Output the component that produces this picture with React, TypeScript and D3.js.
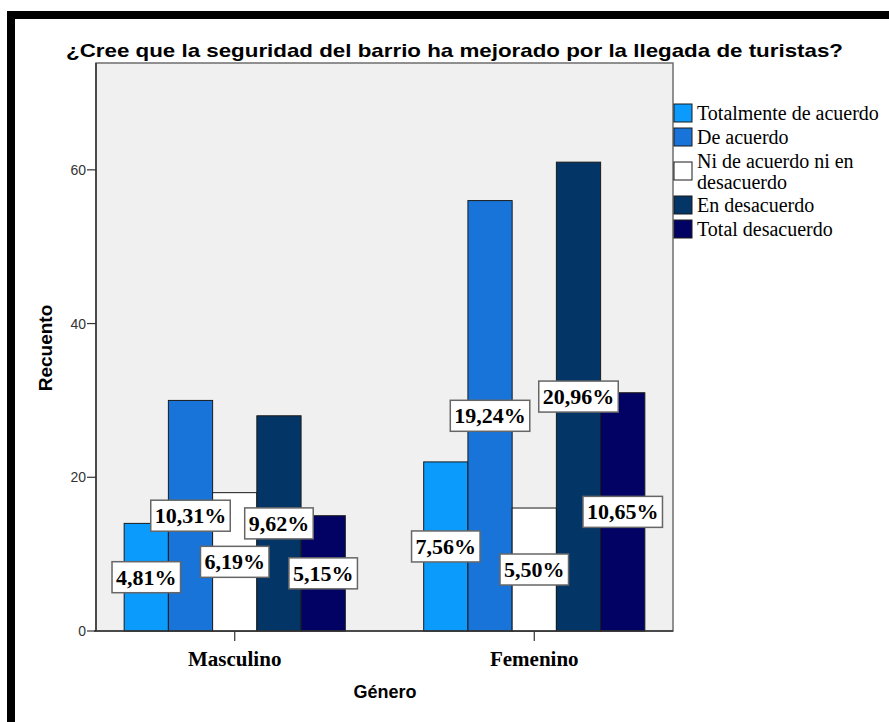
import React, { useEffect, useRef } from "react";
import * as d3 from "d3";

const genders = ["Masculino", "Femenino"];
const responses = [
  "Totalmente de acuerdo",
  "De acuerdo",
  "Ni de acuerdo ni en desacuerdo",
  "En desacuerdo",
  "Total desacuerdo",
];
const legendLines = [
  ["Totalmente de acuerdo"],
  ["De acuerdo"],
  ["Ni de acuerdo ni en", "desacuerdo"],
  ["En desacuerdo"],
  ["Total desacuerdo"],
];
const masculinoCounts = [14, 30, 18, 28, 15];
const femeninoCounts = [22, 56, 16, 61, 31];
const masculinoPct = ["4,81%", "10,31%", "6,19%", "9,62%", "5,15%"];
const femeninoPct = ["7,56%", "19,24%", "5,50%", "20,96%", "10,65%"];
const colors = ["#0b9bfc", "#1874d9", "#ffffff", "#033566", "#020264"];
const yTicks = [0, 20, 40, 60];
const yMax = 73.9;

const title = "¿Cree que la seguridad del barrio ha mejorado por la llegada de turistas?";

export default function App() {
  const ref = useRef<SVGSVGElement>(null);

  useEffect(() => {
    const svg = d3.select(ref.current);
    svg.selectAll("*").remove();

    const left = 96, right = 673, top = 63, bottom = 631;
    const sans = "'Liberation Sans', Arial, sans-serif";
    const serif = "'Liberation Serif', 'Times New Roman', serif";

    svg.append("rect").attr("x", 0).attr("y", 0).attr("width", 889).attr("height", 722).attr("fill", "#fff");
    svg.append("rect").attr("x", 11).attr("y", 15).attr("width", 1000).attr("height", 1000)
      .attr("fill", "none").attr("stroke", "#000").attr("stroke-width", 8);

    svg.append("text").attr("x", 66).attr("y", 56.5)
      .attr("font-family", sans).attr("font-weight", "bold").attr("font-size", 19)
      .attr("textLength", 777).attr("lengthAdjust", "spacingAndGlyphs")
      .attr("fill", "#000").text(title);

    const x0 = d3.scaleBand<string>().domain(genders).range([left, right])
      .paddingInner(0.2617).paddingOuter(0.094);
    const x1 = d3.scaleBand<string>().domain(responses).range([0, x0.bandwidth()]);
    const y = d3.scaleLinear().domain([0, yMax]).range([bottom, top]);

    svg.append("rect").attr("x", left).attr("y", top).attr("width", right - left).attr("height", bottom - top)
      .attr("fill", "#f0f0f0").attr("stroke", "#6e6e6e").attr("stroke-width", 1.5);

    const data = genders.map((g, gi) => ({
      g,
      counts: gi === 0 ? masculinoCounts : femeninoCounts,
      pcts: gi === 0 ? masculinoPct : femeninoPct,
    }));

    // bars
    data.forEach((d) => {
      d.counts.forEach((v, i) => {
        svg.append("rect")
          .attr("x", (x0(d.g) as number) + (x1(responses[i]) as number))
          .attr("y", y(v))
          .attr("width", x1.bandwidth())
          .attr("height", y(0) - y(v))
          .attr("fill", colors[i])
          .attr("stroke", "#1a1a1a").attr("stroke-width", 1);
      });
    });

    // axes lines
    svg.append("line").attr("x1", left).attr("x2", left).attr("y1", top).attr("y2", bottom)
      .attr("stroke", "#333").attr("stroke-width", 1.5);
    svg.append("line").attr("x1", left - 2).attr("x2", right).attr("y1", bottom).attr("y2", bottom)
      .attr("stroke", "#333").attr("stroke-width", 1.5);

    // y ticks
    yTicks.forEach((t) => {
      svg.append("line").attr("x1", left - 9).attr("x2", left).attr("y1", y(t)).attr("y2", y(t))
        .attr("stroke", "#333").attr("stroke-width", 1.2);
      svg.append("text").attr("x", left - 10).attr("y", y(t) + 5).attr("text-anchor", "end")
        .attr("font-family", sans).attr("font-size", 14).attr("fill", "#333").text(String(t));
    });

    // x ticks
    genders.forEach((g) => {
      const cx = (x0(g) as number) + x0.bandwidth() / 2;
      svg.append("line").attr("x1", cx).attr("x2", cx).attr("y1", bottom).attr("y2", bottom + 10)
        .attr("stroke", "#333").attr("stroke-width", 1.2);
      svg.append("text").attr("x", cx).attr("y", 666).attr("text-anchor", "middle")
        .attr("font-family", serif).attr("font-weight", "bold").attr("font-size", 21)
        .attr("fill", "#000").text(g);
    });

    svg.append("text").attr("x", 385).attr("y", 698).attr("text-anchor", "middle")
      .attr("font-family", sans).attr("font-weight", "bold").attr("font-size", 18)
      .attr("fill", "#000").text("Género");

    svg.append("text").attr("transform", "translate(52,348) rotate(-90)").attr("text-anchor", "middle")
      .attr("font-family", sans).attr("font-weight", "bold").attr("font-size", 19)
      .attr("fill", "#000").text("Recuento");

    // labels
    data.forEach((d) => {
      d.counts.forEach((v, i) => {
        const cx = (x0(d.g) as number) + (x1(responses[i]) as number) + x1.bandwidth() / 2;
        const cy = (y(v) + y(0)) / 2;
        const gEl = svg.append("g");
        const rect = gEl.append("rect");
        const txt = gEl.append("text").attr("x", cx).attr("y", cy + 7.5).attr("text-anchor", "middle")
          .attr("font-family", serif).attr("font-weight", "bold").attr("font-size", 22)
          .attr("fill", "#000").text(d.pcts[i]);
        const w = (txt.node() as SVGTextElement).getComputedTextLength() + 8;
        rect.attr("x", cx - w / 2).attr("y", cy - 15.5).attr("width", w).attr("height", 31)
          .attr("fill", "#fff").attr("stroke", "#666").attr("stroke-width", 1.5);
      });
    });

    // legend
    let cursor = 101;
    legendLines.forEach((lines, i) => {
      const h = 24 + (lines.length - 1) * 20;
      const center = cursor + h / 2;
      svg.append("rect").attr("x", 674).attr("y", center - 9).attr("width", 18).attr("height", 18)
        .attr("fill", colors[i]).attr("stroke", "#1a1a1a").attr("stroke-width", 1);
      lines.forEach((ln, j) => {
        svg.append("text").attr("x", 697)
          .attr("y", center - ((lines.length - 1) * 21) / 2 + j * 21 + 7)
          .attr("font-family", serif).attr("font-size", 20).attr("fill", "#000").text(ln);
      });
      cursor += h;
    });
  }, []);

  return (
    <svg ref={ref} width={889} height={722}
      style={{ position: "absolute", left: 0, top: 0, display: "block" }} />
  );
}
